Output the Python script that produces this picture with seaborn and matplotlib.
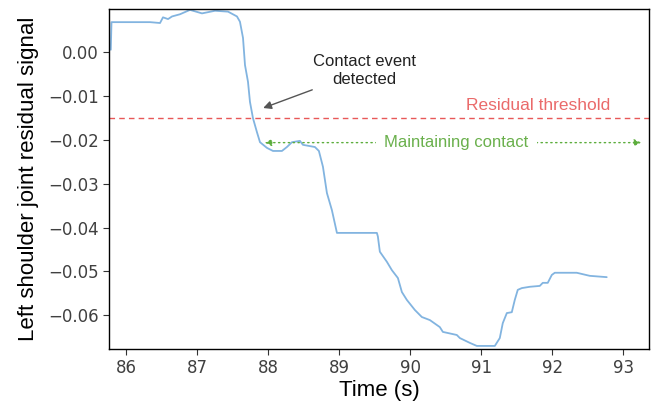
import numpy as np
import pandas as pd
import matplotlib
matplotlib.use("Agg")
import matplotlib.pyplot as plt
import seaborn as sns

# Data
time_s = [85.785, 85.795, 86.338, 86.478, 86.520, 86.591, 86.647, 86.759, 86.900,
          87.069, 87.252, 87.435, 87.561, 87.603, 87.646, 87.674, 87.716, 87.744,
          87.786, 87.842, 87.885, 87.983, 88.068, 88.194, 88.264, 88.335, 88.447,
          88.489, 88.658, 88.714, 88.771, 88.827, 88.897, 88.968, 89.530, 89.544,
          89.572, 89.671, 89.741, 89.826, 89.882, 89.952, 90.065, 90.163, 90.276,
          90.416, 90.459, 90.655, 90.698, 90.838, 90.937, 91.190, 91.260, 91.302,
          91.359, 91.429, 91.471, 91.513, 91.570, 91.682, 91.823, 91.865, 91.935,
          91.992, 92.034, 92.343, 92.526, 92.765]
residual = [0.0006, 0.0069, 0.0069, 0.0067, 0.0080, 0.0076, 0.0082, 0.0087, 0.0097,
            0.0089, 0.0095, 0.0093, 0.0082, 0.0070, 0.0033, -0.0029, -0.0067, -0.0113,
            -0.0150, -0.0182, -0.0205, -0.0218, -0.0225, -0.0225, -0.0216, -0.0205, -0.0202,
            -0.0211, -0.0216, -0.0225, -0.0261, -0.0321, -0.0360, -0.0412, -0.0412, -0.0420,
            -0.0455, -0.0478, -0.0497, -0.0515, -0.0547, -0.0565, -0.0588, -0.0604, -0.0611,
            -0.0627, -0.0638, -0.0645, -0.0652, -0.0663, -0.0670, -0.0670, -0.0652, -0.0618,
            -0.0595, -0.0593, -0.0565, -0.0542, -0.0538, -0.0535, -0.0533, -0.0526, -0.0526,
            -0.0508, -0.0503, -0.0503, -0.0510, -0.0513]

threshold = -0.015
contact_level = -0.0206
contact_start = 87.95
contact_end = 93.25
event_xy = (87.93, -0.0127)
event_text_xy = (89.36, -0.0078)
x_ticks = [86, 87, 88, 89, 90, 91, 92, 93]
y_ticks = [0.00, -0.01, -0.02, -0.03, -0.04, -0.05, -0.06]

sns.set_theme(style="ticks")
plt.rcParams['font.family'] = ['DejaVu Sans']

df = pd.DataFrame({"Time (s)": time_s, "residual": residual})

fig = plt.figure(figsize=(6.57, 4.05), dpi=100)
ax = fig.add_axes([109/657, 1 - 349/405, (649-109)/657, (349-9)/405])

sns.lineplot(data=df, x="Time (s)", y="residual", ax=ax, color="#82b4e0",
             linewidth=1.3, estimator=None, sort=False)

ax.set_xlim(85.76, 93.36)
ax.set_ylim(-0.0677, 0.0099)
ax.set_xticks(x_ticks)
ax.set_yticks(y_ticks)
ax.set_xticklabels([str(t) for t in x_ticks])
ax.set_yticklabels([f"{v:.2f}".replace("-", "\u2212") for v in y_ticks])
ax.tick_params(axis='both', labelsize=12, length=4, width=0.8, color='0.2', labelcolor='0.25', direction='out')
for sp in ax.spines.values():
    sp.set_color('black')
    sp.set_linewidth(1.0)

ax.set_xlabel("Time (s)", fontsize=16, family="Liberation Sans", color='black', labelpad=2)
ax.set_ylabel("Left shoulder joint residual signal", fontsize=16, family="Liberation Sans",
              color='black', labelpad=6)

# Threshold line
ax.axhline(threshold, color="#e85858", linestyle=(0, (4, 3)), linewidth=1.0)
ax.text(91.8, -0.0122, "Residual threshold", color="#ea6a6a", fontsize=12.5,
        family="Liberation Sans", ha="center", va="center")

# Contact event annotation
ax.annotate("Contact event\ndetected", xy=event_xy, xytext=event_text_xy,
            fontsize=12, family="Liberation Sans", ha="center", va="bottom",
            color="#222222",
            arrowprops=dict(arrowstyle="-|>", color="#555555", lw=1.0,
                            shrinkA=0, shrinkB=0, mutation_scale=12))

# Maintaining contact arrow
green = "#5cad3c"
ax.annotate("", xy=(contact_start, contact_level), xytext=(contact_end, contact_level),
            arrowprops=dict(arrowstyle="<|-|>", color=green, lw=1.0, linestyle=(0, (1, 2.5)),
                            shrinkA=0, shrinkB=0, mutation_scale=10))
ax.text(90.65, contact_level, "Maintaining contact", color="#6ab04c", fontsize=12,
        family="Liberation Sans", ha="center", va="center",
        bbox=dict(facecolor="white", edgecolor="none", pad=6))

fig.savefig("out.png", dpi=100)
